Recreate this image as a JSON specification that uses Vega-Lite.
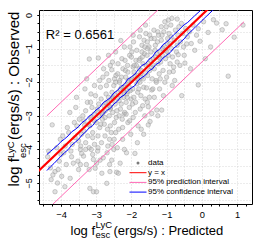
{
"$schema": "https://vega.github.io/schema/vega-lite/v6.json",
"width": 213, "height": 194,
"autosize": "none",
"padding": {"left": 39, "top": 10, "right": 17, "bottom": 44},
"background": "white",
"datasets": {
"pts": [
{"x":-4.38,"y":-4.22},{"x":-4.3,"y":-4.55},{"x":-4.25,"y":-3.27},{"x":-4.17,"y":-4.66},{"x":-4.23,"y":-4.76},{"x":-4.17,"y":-5.26},{"x":-4.35,"y":-4.05},{"x":-4.28,"y":-4.9},
{"x":-4.12,"y":-3.95},{"x":-4.05,"y":-4.35},{"x":-4.08,"y":-4.6},{"x":-4.02,"y":-3.7},{"x":-4.1,"y":-5.0},{"x":-4.0,"y":-4.15},
{"x":-3.95,"y":-3.6},{"x":-3.89,"y":-5.11},{"x":-3.92,"y":-4.1},{"x":-3.85,"y":-4.45},{"x":-3.82,"y":-3.35},{"x":-3.88,"y":-3.9},{"x":-3.98,"y":-4.8},
{"x":-3.74,"y":-4.86},{"x":-3.65,"y":-4.41},{"x":-3.70,"y":-4.22},{"x":-3.78,"y":-3.5},{"x":-3.62,"y":-3.2},{"x":-3.68,"y":-3.85},{"x":-3.75,"y":-2.9},{"x":-3.6,"y":-3.65},{"x":-3.72,"y":-4.05},
{"x":-3.55,"y":-3.3},{"x":-3.5,"y":-3.75},{"x":-3.45,"y":-4.0},{"x":-3.41,"y":-4.12},{"x":-3.58,"y":-2.75},{"x":-3.48,"y":-3.1},{"x":-3.52,"y":-4.35},{"x":-3.42,"y":-3.55},{"x":-3.56,"y":-2.45},{"x":-3.44,"y":-3.9},{"x":-3.5,"y":-4.6},
{"x":-3.38,"y":-3.0},{"x":-3.35,"y":-3.45},{"x":-3.3,"y":-3.8},{"x":-3.25,"y":-2.6},{"x":-3.22,"y":-3.25},{"x":-3.36,"y":-4.2},{"x":-3.28,"y":-4.45},{"x":-3.32,"y":-2.2},{"x":-3.24,"y":-3.6},{"x":-3.2,"y":-3.95},{"x":-3.3,"y":-2.85},{"x":-3.27,"y":-1.9},{"x":-3.35,"y":-3.15},
{"x":-3.196,"y":-1.31},{"x":-3.18,"y":-5.16},{"x":-3.15,"y":-3.1},{"x":-3.12,"y":-2.75},{"x":-3.1,"y":-3.5},{"x":-3.08,"y":-5.26},{"x":-3.05,"y":-3.85},{"x":-3.02,"y":-2.4},{"x":-3.18,"y":-3.3},{"x":-3.14,"y":-4.0},{"x":-3.06,"y":-2.95},{"x":-3.03,"y":-4.56},{"x":-3.1,"y":-3.65},{"x":-3.0,"y":-3.2},{"x":-3.16,"y":-2.6},{"x":-3.08,"y":-4.3},
{"x":-2.99,"y":-4.41},{"x":-2.99,"y":-5.26},{"x":-2.94,"y":-1.28},{"x":-2.97,"y":-2.8},{"x":-2.92,"y":-3.0},{"x":-2.9,"y":-3.35},{"x":-2.89,"y":-4.32},{"x":-2.86,"y":-2.5},{"x":-2.84,"y":-4.71},{"x":-2.82,"y":-3.1},{"x":-2.95,"y":-3.6},{"x":-2.88,"y":-2.15},{"x":-2.85,"y":-3.8},{"x":-2.93,"y":-2.65},{"x":-2.8,"y":-2.9},{"x":-2.87,"y":-3.25},{"x":-2.96,"y":-4.05},{"x":-2.81,"y":-1.85},
{"x":-2.78,"y":-2.7},{"x":-2.75,"y":-3.05},{"x":-2.72,"y":-2.35},{"x":-2.70,"y":-5.01},{"x":-2.68,"y":-3.4},{"x":-2.66,"y":-2.6},{"x":-2.64,"y":-1.95},{"x":-2.62,"y":-3.7},{"x":-2.61,"y":-4.66},{"x":-2.77,"y":-3.25},{"x":-2.74,"y":-2.85},{"x":-2.69,"y":-4.1},{"x":-2.65,"y":-2.45},{"x":-2.63,"y":-3.0},{"x":-2.79,"y":-1.6},{"x":-2.71,"y":-2.1},{"x":-2.67,"y":-3.9},{"x":-2.6,"y":-2.8},
{"x":-2.56,"y":-1.63},{"x":-2.56,"y":-4.32},{"x":-2.58,"y":-2.55},{"x":-2.55,"y":-2.3},{"x":-2.53,"y":-2.9},{"x":-2.5,"y":-2.1},{"x":-2.48,"y":-3.2},{"x":-2.46,"y":-2.65},{"x":-2.44,"y":-1.8},{"x":-2.42,"y":-4.68},{"x":-2.57,"y":-3.5},{"x":-2.52,"y":-2.45},{"x":-2.49,"y":-3.7},{"x":-2.45,"y":-2.0},{"x":-2.41,"y":-2.85},{"x":-2.54,"y":-1.4},{"x":-2.47,"y":-2.4},{"x":-2.43,"y":-3.05},{"x":-2.59,"y":-2.75},{"x":-2.5,"y":-4.0},
{"x":-2.37,"y":-4.71},{"x":-2.32,"y":-4.41},{"x":-2.30,"y":-0.76},{"x":-2.38,"y":-2.3},{"x":-2.35,"y":-2.55},{"x":-2.33,"y":-1.95},{"x":-2.31,"y":-2.8},{"x":-2.28,"y":-2.15},{"x":-2.26,"y":-3.1},{"x":-2.24,"y":-1.6},{"x":-2.22,"y":-2.45},{"x":-2.36,"y":-3.4},{"x":-2.34,"y":-2.0},{"x":-2.29,"y":-2.65},{"x":-2.27,"y":-1.3},{"x":-2.25,"y":-3.7},{"x":-2.23,"y":-2.25},{"x":-2.21,"y":-2.95},{"x":-2.39,"y":-1.75},{"x":-2.3,"y":-2.4},
{"x":-2.18,"y":-2.1},{"x":-2.16,"y":-1.85},{"x":-2.15,"y":-2.6},{"x":-2.13,"y":-2.35},{"x":-2.11,"y":-1.5},{"x":-2.1,"y":-3.2},{"x":-2.08,"y":-2.0},{"x":-2.06,"y":-2.75},{"x":-2.05,"y":-1.2},{"x":-2.03,"y":-2.25},{"x":-2.02,"y":-3.55},{"x":-2.19,"y":-2.9},{"x":-2.17,"y":-1.65},{"x":-2.14,"y":-4.1},{"x":-2.12,"y":-2.45},{"x":-2.09,"y":-1.95},{"x":-2.07,"y":-2.15},{"x":-2.04,"y":-0.95},{"x":-2.01,"y":-2.5},{"x":-2.2,"y":-2.3},
{"x":-1.98,"y":-1.9},{"x":-1.96,"y":-2.2},{"x":-1.95,"y":-1.55},{"x":-1.93,"y":-2.45},{"x":-1.9,"y":-4.12},{"x":-1.92,"y":-1.7},{"x":-1.89,"y":-2.9},{"x":-1.87,"y":-1.35},{"x":-1.85,"y":-2.05},{"x":-1.84,"y":-1.8},{"x":-1.82,"y":-2.3},{"x":-1.81,"y":-3.3},{"x":-1.99,"y":-1.1},{"x":-1.97,"y":-2.65},{"x":-1.94,"y":-0.8},{"x":-1.88,"y":-2.6},{"x":-1.86,"y":-1.5},{"x":-1.83,"y":-3.8},{"x":-1.8,"y":-1.95},
{"x":-1.78,"y":-1.6},{"x":-1.76,"y":-2.0},{"x":-1.75,"y":-1.3},{"x":-1.73,"y":-2.4},{"x":-1.71,"y":-1.85},{"x":-1.7,"y":-0.9},{"x":-1.68,"y":-2.7},{"x":-1.67,"y":-1.45},{"x":-1.65,"y":-2.15},{"x":-1.63,"y":-1.15},{"x":-1.62,"y":-3.0},{"x":-1.79,"y":-2.2},{"x":-1.77,"y":-0.65},{"x":-1.74,"y":-1.75},{"x":-1.72,"y":-3.4},{"x":-1.69,"y":-1.25},{"x":-1.66,"y":-1.9},{"x":-1.64,"y":-0.75},{"x":-1.61,"y":-2.5},
{"x":-1.57,"y":-2.17},{"x":-1.52,"y":-2.73},{"x":-1.52,"y":-3.27},{"x":-1.47,"y":-3.17},{"x":-1.42,"y":-2.93},{"x":-1.42,"y":-2.23},{"x":-1.58,"y":-1.5},{"x":-1.56,"y":-1.2},{"x":-1.54,"y":-1.8},{"x":-1.5,"y":-0.95},{"x":-1.48,"y":-1.65},{"x":-1.46,"y":-1.35},{"x":-1.44,"y":-0.7},{"x":-1.41,"y":-1.9},{"x":-1.59,"y":-0.55},{"x":-1.55,"y":-1.0},{"x":-1.49,"y":-2.45},{"x":-1.45,"y":-1.1},{"x":-1.43,"y":-1.55},
{"x":-1.38,"y":-1.3},{"x":-1.35,"y":-1.6},{"x":-1.32,"y":-0.9},{"x":-1.3,"y":-1.95},{"x":-1.28,"y":-2.83},{"x":-1.27,"y":-1.15},{"x":-1.25,"y":-1.45},{"x":-1.23,"y":-0.6},{"x":-1.21,"y":-1.75},{"x":-1.39,"y":-2.2},{"x":-1.36,"y":-0.45},{"x":-1.33,"y":-1.05},{"x":-1.29,"y":-2.0},{"x":-1.26,"y":-0.8},{"x":-1.22,"y":-1.25},
{"x":-1.19,"y":-1.1},{"x":-1.17,"y":-1.4},{"x":-1.15,"y":-0.75},{"x":-1.14,"y":-2.83},{"x":-1.12,"y":-1.2},{"x":-1.1,"y":-1.65},{"x":-1.08,"y":-0.5},{"x":-1.06,"y":-0.95},{"x":-1.05,"y":-2.0},{"x":-1.03,"y":-1.3},{"x":-1.01,"y":-0.35},{"x":-1.18,"y":-1.9},{"x":-1.13,"y":-0.6},{"x":-1.09,"y":-2.4},{"x":-1.04,"y":-1.05},
{"x":-0.98,"y":-0.85},{"x":-0.95,"y":-1.2},{"x":-0.93,"y":-0.55},{"x":-0.9,"y":-1.45},{"x":-0.88,"y":-0.3},{"x":-0.86,"y":-1.0},{"x":-0.84,"y":-2.1},{"x":-0.81,"y":-1.68},{"x":-0.97,"y":-0.7},{"x":-0.92,"y":-1.7},{"x":-0.87,"y":-0.65},{"x":-0.83,"y":-1.25},
{"x":-0.78,"y":-0.75},{"x":-0.75,"y":-0.45},{"x":-0.72,"y":-1.1},{"x":-0.7,"y":-0.9},{"x":-0.67,"y":-1.18},{"x":-0.65,"y":-0.35},{"x":-0.62,"y":-1.5},{"x":-0.77,"y":-1.95},{"x":-0.68,"y":-0.6},{"x":-0.61,"y":-0.8},
{"x":-0.57,"y":-2.4},{"x":-0.55,"y":-0.55},{"x":-0.52,"y":-0.95},{"x":-0.48,"y":-1.43},{"x":-0.46,"y":-0.4},{"x":-0.43,"y":-0.86},{"x":-0.41,"y":-0.65},{"x":-0.58,"y":-0.25},{"x":-0.5,"y":-1.2},
{"x":-0.35,"y":-0.5},{"x":-0.3,"y":-0.85},{"x":-0.25,"y":-0.3},{"x":-0.2,"y":-1.05},{"x":-0.15,"y":-0.6},{"x":-0.1,"y":-0.41},{"x":-0.1,"y":-2.08},{"x":-0.05,"y":-0.78},{"x":-0.32,"y":-1.6},
{"x":0.05,"y":-0.2},{"x":0.18,"y":-0.52},{"x":0.25,"y":-0.95},{"x":0.33,"y":-0.14},{"x":0.42,"y":-0.24},{"x":0.1,"y":-1.3},
{"x":0.58,"y":-0.44},{"x":0.69,"y":-0.26},{"x":0.75,"y":-1.82},{"x":0.92,"y":-0.66},{"x":1.17,"y":-0.3},
{"x":-3.33,"y":-3.28},{"x":-3.15,"y":-3.05},{"x":-3.05,"y":-3.15},{"x":-2.95,"y":-2.88},{"x":-2.83,"y":-2.95},{"x":-2.73,"y":-2.62},{"x":-2.62,"y":-2.72},{"x":-2.52,"y":-2.5},{"x":-2.4,"y":-2.48},{"x":-2.32,"y":-2.22},{"x":-2.2,"y":-2.15},{"x":-2.1,"y":-2.28},{"x":-2.0,"y":-1.95},{"x":-1.9,"y":-1.82},{"x":-1.83,"y":-1.9},{"x":-1.72,"y":-1.65},{"x":-1.6,"y":-1.72},{"x":-1.52,"y":-1.45},{"x":-1.4,"y":-1.48},{"x":-1.31,"y":-1.25},{"x":-1.2,"y":-1.28},{"x":-1.1,"y":-1.0},{"x":-1.0,"y":-1.08},{"x":-0.9,"y":-0.85},
{"x":-2.7,"y":-1.75},{"x":-2.6,"y":-1.5},{"x":-2.48,"y":-1.9},{"x":-2.38,"y":-1.45},{"x":-2.28,"y":-1.85},{"x":-2.18,"y":-1.35},{"x":-2.1,"y":-1.7},{"x":-2.0,"y":-1.25},{"x":-1.92,"y":-1.5},{"x":-1.85,"y":-1.05},{"x":-1.78,"y":-1.35},{"x":-1.7,"y":-1.1},{"x":-1.62,"y":-0.95},{"x":-1.55,"y":-0.8},{"x":-1.48,"y":-0.6},{"x":-1.35,"y":-0.7},{"x":-1.25,"y":-0.5},{"x":-1.15,"y":-0.35},{"x":-1.05,"y":-0.2},{"x":-0.95,"y":-0.15},{"x":-0.85,"y":-0.1},{"x":-0.7,"y":-0.12},{"x":-2.9,"y":-1.95},{"x":-3.05,"y":-2.1},{"x":-3.15,"y":-2.35},{"x":-2.65,"y":-1.2},{"x":-2.45,"y":-1.1},{"x":-2.2,"y":-0.95},{"x":-1.95,"y":-0.6},{"x":-1.75,"y":-0.45},{"x":-1.6,"y":-0.3},
{"x":-2.35,"y":-3.0},{"x":-2.15,"y":-2.95},{"x":-1.95,"y":-3.05},{"x":-1.75,"y":-2.8},{"x":-1.55,"y":-2.6},{"x":-1.35,"y":-2.45},{"x":-1.2,"y":-2.2},{"x":-1.0,"y":-1.85},{"x":-0.8,"y":-1.55},{"x":-0.7,"y":-1.4},{"x":-2.6,"y":-3.3},{"x":-2.45,"y":-3.5},{"x":-2.25,"y":-3.35},{"x":-2.05,"y":-3.15},{"x":-1.65,"y":-3.55},{"x":-1.25,"y":-3.0},
{"x":-3.3,"y":-4.0},{"x":-3.1,"y":-4.15},{"x":-2.95,"y":-3.95},{"x":-2.75,"y":-3.6},{"x":-2.55,"y":-3.85},{"x":-2.4,"y":-3.95},{"x":-2.2,"y":-4.0},{"x":-3.45,"y":-4.45},{"x":-3.2,"y":-4.6},{"x":-2.8,"y":-4.25},{"x":-2.62,"y":-4.45}
],
"fit": [{"x":-4.8,"y":-4.8,"s":"y = x"},{"x":1.6,"y":1.6,"s":"y = x"}],
"pi": [
{"x":-4.4,"y":-3.0,"s":"95% prediction interval","g":"u"},{"x":1.2,"y":2.6,"s":"95% prediction interval","g":"u"},
{"x":-4.4,"y":-5.8,"s":"95% prediction interval","g":"l"},{"x":1.2,"y":-0.2,"s":"95% prediction interval","g":"l"}],
"ci": [
{"x":-4.4,"hi":-4.15,"lo":-4.63,"s":"95% confidence interval"},
{"x":-4.3,"hi":-4.06,"lo":-4.52,"s":"95% confidence interval"},
{"x":-4.2,"hi":-3.97,"lo":-4.42,"s":"95% confidence interval"},
{"x":-4.1,"hi":-3.88,"lo":-4.31,"s":"95% confidence interval"},
{"x":-4.0,"hi":-3.77,"lo":-4.20,"s":"95% confidence interval"},
{"x":-3.9,"hi":-3.69,"lo":-4.10,"s":"95% confidence interval"},
{"x":-3.8,"hi":-3.60,"lo":-4.01,"s":"95% confidence interval"},
{"x":-3.7,"hi":-3.48,"lo":-3.88,"s":"95% confidence interval"},
{"x":-3.6,"hi":-3.41,"lo":-3.79,"s":"95% confidence interval"},
{"x":-3.5,"hi":-3.32,"lo":-3.70,"s":"95% confidence interval"},
{"x":-3.4,"hi":-3.20,"lo":-3.57,"s":"95% confidence interval"},
{"x":-3.3,"hi":-3.13,"lo":-3.48,"s":"95% confidence interval"},
{"x":-3.2,"hi":-3.01,"lo":-3.36,"s":"95% confidence interval"},
{"x":-3.1,"hi":-2.94,"lo":-3.29,"s":"95% confidence interval"},
{"x":-3.0,"hi":-2.82,"lo":-3.15,"s":"95% confidence interval"},
{"x":-2.9,"hi":-2.75,"lo":-3.08,"s":"95% confidence interval"},
{"x":-2.8,"hi":-2.61,"lo":-2.96,"s":"95% confidence interval"},
{"x":-2.7,"hi":-2.54,"lo":-2.84,"s":"95% confidence interval"},
{"x":-2.6,"hi":-2.46,"lo":-2.78,"s":"95% confidence interval"},
{"x":-2.5,"hi":-2.32,"lo":-2.65,"s":"95% confidence interval"},
{"x":-2.4,"hi":-2.25,"lo":-2.57,"s":"95% confidence interval"},
{"x":-2.3,"hi":-2.13,"lo":-2.44,"s":"95% confidence interval"},
{"x":-2.2,"hi":-2.06,"lo":-2.38,"s":"95% confidence interval"},
{"x":-2.1,"hi":-1.91,"lo":-2.25,"s":"95% confidence interval"},
{"x":-2.0,"hi":-1.84,"lo":-2.17,"s":"95% confidence interval"},
{"x":-1.9,"hi":-1.76,"lo":-2.10,"s":"95% confidence interval"},
{"x":-1.8,"hi":-1.62,"lo":-1.94,"s":"95% confidence interval"},
{"x":-1.7,"hi":-1.50,"lo":-1.86,"s":"95% confidence interval"},
{"x":-1.6,"hi":-1.45,"lo":-1.79,"s":"95% confidence interval"},
{"x":-1.5,"hi":-1.32,"lo":-1.66,"s":"95% confidence interval"},
{"x":-1.4,"hi":-1.24,"lo":-1.60,"s":"95% confidence interval"},
{"x":-1.3,"hi":-1.09,"lo":-1.47,"s":"95% confidence interval"},
{"x":-1.2,"hi":-1.02,"lo":-1.41,"s":"95% confidence interval"},
{"x":-1.1,"hi":-0.88,"lo":-1.28,"s":"95% confidence interval"},
{"x":-1.0,"hi":-0.81,"lo":-1.20,"s":"95% confidence interval"},
{"x":-0.9,"hi":-0.70,"lo":-1.12,"s":"95% confidence interval"},
{"x":-0.8,"hi":-0.59,"lo":-0.99,"s":"95% confidence interval"},
{"x":-0.7,"hi":-0.50,"lo":-0.91,"s":"95% confidence interval"},
{"x":-0.6,"hi":-0.39,"lo":-0.80,"s":"95% confidence interval"},
{"x":-0.5,"hi":-0.29,"lo":-0.71,"s":"95% confidence interval"},
{"x":-0.4,"hi":-0.22,"lo":-0.58,"s":"95% confidence interval"},
{"x":-0.2,"hi":-0.02,"lo":-0.38,"s":"95% confidence interval"},
{"x":0.0,"hi":0.17,"lo":-0.17,"s":"95% confidence interval"},
{"x":0.3,"hi":0.47,"lo":0.13,"s":"95% confidence interval"},
{"x":0.6,"hi":0.78,"lo":0.42,"s":"95% confidence interval"},
{"x":0.9,"hi":1.09,"lo":0.71,"s":"95% confidence interval"},
{"x":1.2,"hi":1.40,"lo":1.00,"s":"95% confidence interval"}],
"r2": [{"x":-4.43,"y":-0.705,"t":"R² = 0.6561"}]
},
"layer": [
{
"data": {"name": "pts"},
"mark": {"type": "point", "filled": true, "size": 20, "fill": "#bdbdbd", "fillOpacity": 0.45, "stroke": "#9a9a9a", "strokeWidth": 0.6, "strokeOpacity": 0.8},
"encoding": {
"x": {"field": "x", "type": "quantitative", "scale": {"domain": [-4.625, 1.426], "nice": false, "zero": false},
 "axis": {"orient": "bottom", "title": "(ergs/s) : Predicted", "titleX": 74, "titleY": 30, "titleAlign": "left", "titleBaseline": "alphabetic", "titleAngle": 0, "titleFontSize": 13, "values": [-4.5,-4.25,-4,-3.75,-3.5,-3.25,-3,-2.75,-2.5,-2.25,-2,-1.75,-1.5,-1.25,-1,-0.75,-0.5,-0.25,0,0.25,0.5,0.75,1,1.25], "labels": false, "ticks": true, "tickSize": 2, "domain": false, "grid": false}},
"y": {"field": "y", "type": "quantitative", "scale": {"domain": [-5.625, 0.149], "nice": false, "zero": false},
 "axis": {"orient": "left", "title": "(ergs/s) : Observed", "titleX": -21, "titleY": 129.5, "titleAlign": "left", "titleBaseline": "alphabetic", "titleAngle": -90, "titleFontSize": 15, "values": [-5.5,-5.25,-5,-4.75,-4.5,-4.25,-4,-3.75,-3.5,-3.25,-3,-2.75,-2.5,-2.25,-2,-1.75,-1.5,-1.25,-1,-0.75,-0.5,-0.25,0], "labels": false, "ticks": true, "tickSize": 2, "domain": false, "grid": false}}
}
},
{
"data": {"name": "fit"},
"mark": {"type": "line", "strokeWidth": 2.2, "clip": true},
"encoding": {
"x": {"field": "x", "type": "quantitative", "scale": {"domain": [-4.625, 1.426], "nice": false, "zero": false},
 "axis": {"orient": "bottom", "title": "log f", "titleX": 31, "titleY": 30, "titleAlign": "left", "titleBaseline": "alphabetic", "titleAngle": 0, "titleFontSize": 13, "labels": false, "ticks": false, "domain": false, "grid": true, "values": [-4.5,-4,-3.5,-3,-2.5,-2,-1.5,-1,-0.5,0,0.5,1]}},
"y": {"field": "y", "type": "quantitative", "scale": {"domain": [-5.625, 0.149], "nice": false, "zero": false},
 "axis": {"orient": "left", "title": "log f", "titleX": -21, "titleY": 176, "titleAlign": "left", "titleBaseline": "alphabetic", "titleAngle": -90, "titleFontSize": 15, "labels": false, "ticks": false, "domain": false, "grid": true, "values": [-5.5,-5,-4.5,-4,-3.5,-3,-2.5,-2,-1.5,-1,-0.5,0]}},
"color": {"field": "s", "type": "nominal",
 "scale": {"domain": ["data", "y = x", "95% prediction interval", "95% confidence interval"], "range": ["#7a7a7a", "#ff0000", "#ff69b4", "#0000ff"]},
 "legend": {"orient": "none", "legendX": 95, "legendY": 149, "title": null, "labelFontSize": 8, "labelFont": "Liberation Sans", "labelColor": "black", "symbolType": "stroke", "symbolSize": 289, "symbolStrokeWidth": 1, "rowPadding": 1.7, "labelOffset": 6, "padding": 0,
  "encode": {"symbols": {"update": {"shape": {"signal": "datum.value === 'data' ? 'circle' : 'stroke'"}, "size": {"signal": "datum.value === 'data' ? 9 : 289"}, "fill": {"signal": "datum.value === 'data' ? '#7a7a7a' : 'transparent'"}, "strokeWidth": {"signal": "datum.value === 'data' ? 0 : 1"}}}}}}
}
},
{
"data": {"name": "pi"},
"mark": {"type": "line", "strokeWidth": 1, "clip": true},
"encoding": {
"x": {"field": "x", "type": "quantitative", "scale": {"domain": [-4.625, 1.426], "nice": false, "zero": false},
 "axis": {"orient": "bottom", "title": "esc", "titleX": 56, "titleY": 33.5, "titleAlign": "left", "titleBaseline": "alphabetic", "titleAngle": 0, "titleFontSize": 9.5, "labels": false, "ticks": false, "domain": false, "grid": false}},
"y": {"field": "y", "type": "quantitative", "scale": {"domain": [-5.625, 0.149], "nice": false, "zero": false},
 "axis": {"orient": "left", "title": "esc", "titleX": -14, "titleY": 147.5, "titleAlign": "left", "titleBaseline": "alphabetic", "titleAngle": -90, "titleFontSize": 9.5, "labels": false, "ticks": false, "domain": false, "grid": false}},
"color": {"field": "s", "type": "nominal"},
"detail": {"field": "g"}
}
},
{
"data": {"name": "ci"},
"transform": [{"fold": ["hi", "lo"], "as": ["g", "y"]}],
"mark": {"type": "line", "strokeWidth": 1, "clip": true},
"encoding": {
"x": {"field": "x", "type": "quantitative", "scale": {"domain": [-4.625, 1.426], "nice": false, "zero": false},
 "axis": {"orient": "bottom", "title": "LyC", "titleX": 56, "titleY": 23.5, "titleAlign": "left", "titleBaseline": "alphabetic", "titleAngle": 0, "titleFontSize": 9.5, "labels": false, "ticks": false, "domain": false, "grid": false}},
"y": {"field": "y", "type": "quantitative", "scale": {"domain": [-5.625, 0.149], "nice": false, "zero": false},
 "axis": {"orient": "left", "title": "LyC", "titleX": -26, "titleY": 147.5, "titleAlign": "left", "titleBaseline": "alphabetic", "titleAngle": -90, "titleFontSize": 9.5, "labels": false, "ticks": false, "domain": false, "grid": false}},
"color": {"field": "s", "type": "nominal"},
"detail": {"field": "g"}
}
},
{
"data": {"name": "r2"},
"mark": {"type": "text", "align": "left", "baseline": "alphabetic", "fontSize": 13, "font": "Liberation Sans", "color": "black"},
"encoding": {
"x": {"field": "x", "type": "quantitative", "scale": {"domain": [-4.625, 1.426], "nice": false, "zero": false},
 "axis": {"orient": "bottom", "title": null, "values": [-4, -3, -2, -1, 0, 1], "format": "d", "tickSize": 2, "labelPadding": 4, "labelFontSize": 9.3, "labelBaseline": "top", "domain": false, "grid": false, "labelFlush": false, "labelOverlap": false}},
"y": {"field": "y", "type": "quantitative", "scale": {"domain": [-5.625, 0.149], "nice": false, "zero": false},
 "axis": {"orient": "left", "title": null, "values": [-5, -4, -3, -2, -1, 0], "format": "d", "tickSize": 2, "labelPadding": 6, "labelFontSize": 9, "labelAngle": -90, "labelAlign": "center", "labelBaseline": "alphabetic", "domain": false, "grid": false, "labelFlush": false, "labelOverlap": false}},
"text": {"field": "t"}
}
}
],
"resolve": {"axis": {"x": "independent", "y": "independent"}},
"config": {
"view": {"stroke": "black", "strokeWidth": 1},
"axis": {"labelFont": "Liberation Sans", "titleFont": "Liberation Sans", "labelColor": "black", "titleColor": "black", "tickColor": "black", "titleFontWeight": "normal", "gridColor": "#cfcfcf", "gridDash": [1, 2], "gridWidth": 0.8},
"legend": {"labelFont": "Liberation Sans"}
}
}
